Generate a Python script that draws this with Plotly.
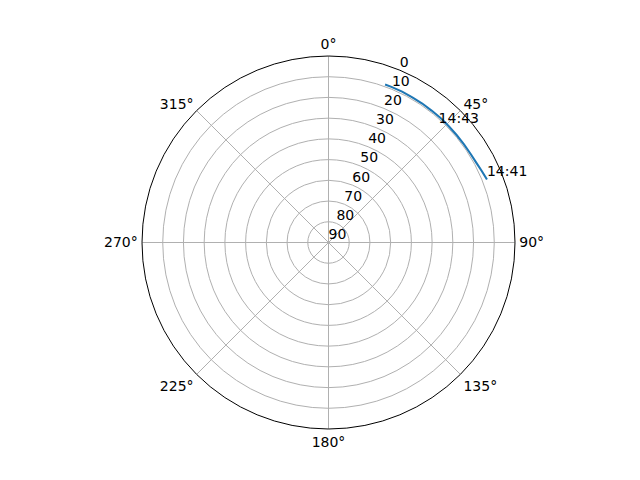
import plotly.graph_objects as go

# satellite pass: azimuth (deg) and elevation (deg)
azimuth = [68.3, 65, 62, 58, 54, 50, 46, 42, 38, 34, 30, 26, 22, 19.7]
elevation = [7.7, 8.4, 8.9, 9.2, 9.3, 9.3, 9.3, 9.2, 9.2, 9.1, 9.1, 9.0, 9.0, 9.0]

label_az = [68.3, 43.5]
label_el = [7.7, 12.8]
label_text = ["14:41", "14:43"]

angle_ticks = [0, 45, 90, 135, 180, 225, 270, 315]
angle_text = [f"{a}°" for a in angle_ticks]
radial_ticks = [0, 10, 20, 30, 40, 50, 60, 70, 80, 90]
radial_label_az = 22.5

fig = go.Figure()
fig.add_trace(go.Scatterpolar(r=elevation, theta=azimuth, mode="lines",
                              line=dict(color="#1f77b4", width=2.1)))
fig.add_trace(go.Scatterpolar(r=label_el, theta=label_az, mode="text",
                              text=label_text, textposition="top right",
                              textfont=dict(size=14, color="black")))
# radial tick labels, matplotlib style (horizontal, next to the 22.5 deg ray)
fig.add_trace(go.Scatterpolar(r=radial_ticks, theta=[radial_label_az] * len(radial_ticks),
                              mode="text", text=[str(t) for t in radial_ticks],
                              textposition="top right",
                              textfont=dict(size=14, color="black"), cliponaxis=False))

fig.update_layout(
    width=640, height=480,
    margin=dict(l=134, r=133, t=48, b=59, autoexpand=False),
    paper_bgcolor="white",
    showlegend=False,
    font=dict(family="DejaVu Sans", size=14, color="black"),
    polar=dict(
        bgcolor="white",
        angularaxis=dict(direction="clockwise", rotation=90,
                         tickvals=angle_ticks, ticktext=angle_text,
                         ticks="outside", ticklen=1, tickcolor="rgba(0,0,0,0)",
                         showline=True, linecolor="black", linewidth=1,
                         gridcolor="#b0b0b0", gridwidth=1),
        radialaxis=dict(range=[90, 0], tickvals=radial_ticks, angle=67.5,
                        showticklabels=False, showline=False, ticks="",
                        gridcolor="#b0b0b0", gridwidth=1),
    ),
)

fig.write_html("out.html")
